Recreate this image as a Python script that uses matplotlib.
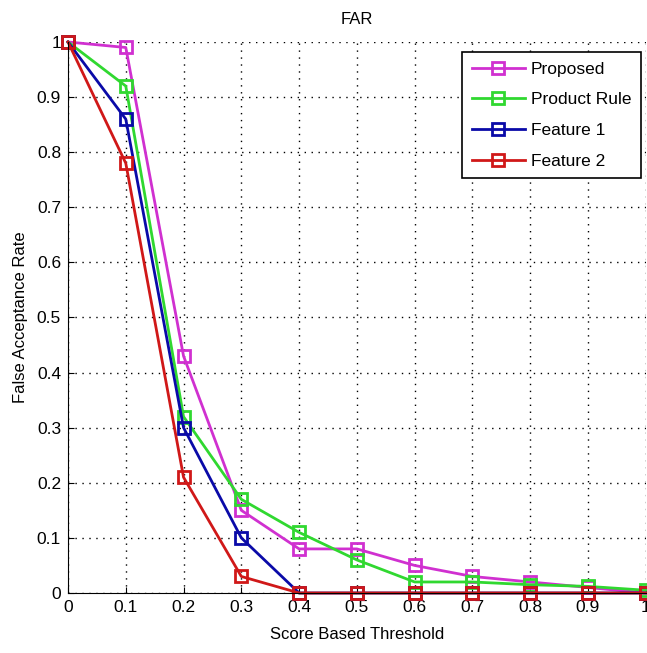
import matplotlib
matplotlib.use('Agg')
import matplotlib.pyplot as plt

plt.rcParams['font.family'] = ['Liberation Sans', 'DejaVu Sans']

# threshold values
thresholds = [0.0, 0.1, 0.2, 0.3, 0.4, 0.5, 0.6, 0.7, 0.8, 0.9, 1.0]

# false acceptance rate per method
far_proposed = [1.0, 0.99, 0.43, 0.15, 0.08, 0.08, 0.05, 0.03, 0.02, 0.01, 0.0]
far_product = [1.0, 0.92, 0.32, 0.17, 0.11, 0.06, 0.02, 0.02, 0.015, 0.012, 0.005]
far_feature1 = [1.0, 0.86, 0.30, 0.10, 0.0, 0.0, 0.0, 0.0, 0.0, 0.0, 0.0]
far_feature2 = [1.0, 0.78, 0.21, 0.03, 0.0, 0.0, 0.0, 0.0, 0.0, 0.0, 0.0]

series = [
    ('Proposed', far_proposed, '#d030d0'),
    ('Product Rule', far_product, '#30d830'),
    ('Feature 1', far_feature1, '#0a0aa8'),
    ('Feature 2', far_feature2, '#d01818'),
]

xticks = [0, 0.1, 0.2, 0.3, 0.4, 0.5, 0.6, 0.7, 0.8, 0.9, 1]
xticklabels = ['0', '0.1', '0.2', '0.3', '0.4', '0.5', '0.6', '0.7', '0.8', '0.9', '1']
yticks = [0, 0.1, 0.2, 0.3, 0.4, 0.5, 0.6, 0.7, 0.8, 0.9, 1]
yticklabels = ['0', '0.1', '0.2', '0.3', '0.4', '0.5', '0.6', '0.7', '0.8', '0.9', '1']

fig = plt.figure(figsize=(6.47, 6.53), dpi=100)
ax = fig.add_axes([0.1051, 0.0919, 0.893, 0.8438])

for name, vals, col in series:
    ax.plot(thresholds, vals, color=col, linewidth=2, marker='s', markersize=9,
            markerfacecolor='none', markeredgewidth=2, label=name, clip_on=False)

ax.set_xlim(0, 1)
ax.set_ylim(0, 1)
ax.set_xticks(xticks)
ax.set_xticklabels(xticklabels)
ax.set_yticks(yticks)
ax.set_yticklabels(yticklabels)
ax.tick_params(direction='in', labelsize=12.5, length=4, pad=5)
ax.grid(True, color='black', linestyle=(0, (1, 4)), linewidth=1)
ax.spines['top'].set_visible(False)
ax.spines['right'].set_visible(False)

ax.set_title('FAR', fontsize=12, pad=13)
ax.set_xlabel('Score Based Threshold', fontsize=12, labelpad=9)
ax.set_ylabel('False Acceptance Rate', fontsize=12, labelpad=6)

leg = ax.legend(loc='upper left', bbox_to_anchor=(0.682, 0.982), fontsize=12.5,
                fancybox=False, edgecolor='black', framealpha=1,
                handlelength=3.1, borderpad=0.55, labelspacing=0.9,
                handletextpad=0.3, borderaxespad=0)
leg.get_frame().set_linewidth(1.2)

fig.savefig('out.png', dpi=100)
